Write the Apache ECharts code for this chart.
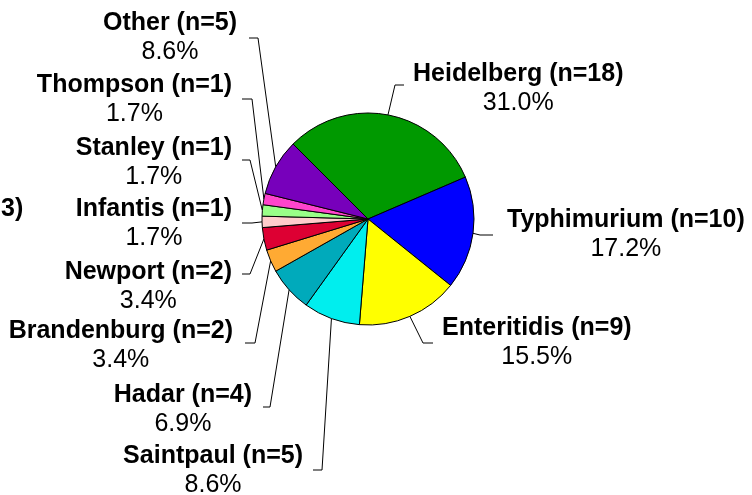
<!DOCTYPE html>
<html>
<head>
<meta charset="utf-8">
<script src="https://cdn.jsdelivr.net/npm/echarts@6/dist/echarts.min.js"></script>
<style>
  html, body { margin: 0; padding: 0; background: #fff; }
  #chart { width: 752px; height: 495px; }
</style>
</head>
<body>
<div id="chart"></div>
<script>
  // serotype counts
  var serotypes = ['Heidelberg', 'Typhimurium', 'Enteritidis', 'Saintpaul', 'Hadar', 'Brandenburg',
                   'Newport', 'Infantis', 'Stanley', 'Thompson', 'Other'];
  var counts = [18, 10, 9, 5, 4, 2, 2, 1, 1, 1, 5];
  var sliceColors = ['#009900', '#0000FF', '#FFFF00', '#00EEEE', '#00AABB', '#FFAA33',
                     '#DD0033', '#FFCCCC', '#99FF88', '#FF44CC', '#7700BB'];

  // label placement: side, text edge x, block centre y, leader y, leader near x, leader far x
  var labelSpots = [
    ['R', 413, 89, 85, 404, 395],
    ['R', 507, 235, 235, 493, 480],
    ['R', 442, 343, 343, 433, 423],
    ['L', 303, 471, 470, 313, 322],
    ['L', 252, 410, 407, 263, 270],
    ['L', 233, 346, 343, 245, 255],
    ['L', 232, 287, 274, 242, 250],
    ['L', 232, 224, 223, 242, 252],
    ['L', 232, 163, 160, 242, 250],
    ['L', 232, 100, 99, 242, 252],
    ['L', 237, 38, 38, 249, 258]
  ];

  var total = counts.reduce(function (a, b) { return a + b; }, 0);
  var font = '"Liberation Sans", Arial, Helvetica, sans-serif';

  var pieData = serotypes.map(function (name, i) {
    return { name: name, value: counts[i], itemStyle: { color: sliceColors[i] } };
  });

  var myChart = echarts.init(document.getElementById('chart'));
  var option = {
    animation: false,
    backgroundColor: '#fff',
    graphic: [{
      type: 'text',
      left: 1,
      top: 197,
      style: { text: '3)', font: 'bold 25px ' + font, fill: '#000' }
    }],
    series: [{
      type: 'pie',
      center: [368, 219],
      radius: 106,
      startAngle: 135,
      clockwise: true,
      avoidLabelOverlap: false,
      itemStyle: { borderColor: '#000', borderWidth: 1 },
      emphasis: { disabled: true },
      label: {
        show: true,
        position: 'outside',
        color: '#000',
        fontFamily: font,
        formatter: function (p) {
          return '{b|' + p.name + ' (n=' + p.value + ')}\n{p|' + (p.value / total * 100).toFixed(1) + '%}';
        },
        rich: {
          b: { fontFamily: font, fontWeight: 'bold', fontSize: 25, lineHeight: 29, color: '#000', align: 'center' },
          p: { fontFamily: font, fontSize: 25, lineHeight: 29, color: '#000', align: 'center' }
        }
      },
      labelLine: {
        show: true,
        lineStyle: { color: '#000', width: 1 }
      },
      labelLayout: function (p) {
        var s = labelSpots[p.dataIndex];
        var w = p.labelRect.width;
        var out = {
          x: s[0] === 'R' ? s[1] + w / 2 : s[1] - w / 2,
          y: s[2],
          align: 'center',
          verticalAlign: 'middle'
        };
        if (p.labelLinePoints) {
          out.labelLinePoints = [p.labelLinePoints[0], [s[5], s[3]], [s[4], s[3]]];
        }
        return out;
      },
      data: pieData
    }]
  };
  myChart.setOption(option);
</script>
</body>
</html>
